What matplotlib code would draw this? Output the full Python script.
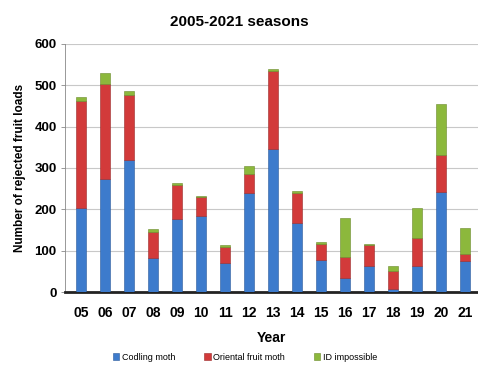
import numpy as np
import matplotlib.pyplot as plt

plt.rcParams['font.family'] = ['Liberation Sans Narrow', 'Liberation Sans', 'DejaVu Sans']

years = ["05", "06", "07", "08", "09", "10", "11", "12", "13",
         "14", "15", "16", "17", "18", "19", "20", "21"]
codling = [204, 274, 319, 83, 177, 183, 70, 240, 345, 167, 78, 35, 63, 8, 62, 241, 76]
oriental = [258, 230, 157, 62, 83, 46, 40, 46, 190, 72, 38, 49, 51, 42, 68, 91, 16]
id_imp = [10, 26, 11, 7, 4, 4, 4, 20, 5, 5, 4, 94, 2, 12, 74, 122, 62]

c_blue = "#3d7bcc"
c_red = "#d23a3a"
c_green = "#8cb83c"

fig = plt.figure(figsize=(4.78, 3.66), dpi=100)
ax = fig.add_axes([0.136, 0.202, 0.864, 0.678])

x = np.arange(len(years))
w = 0.42
cm = np.array(codling)
of = np.array(oriental)
idi = np.array(id_imp)
ax.bar(x, cm, w, color=c_blue, edgecolor="#2a5a9a", linewidth=0.4, label="Codling moth", zorder=3)
ax.bar(x, of, w, bottom=cm, color=c_red, edgecolor="#9a2a2a", linewidth=0.4,
       label="Oriental fruit moth", zorder=3)
ax.bar(x, idi, w, bottom=cm + of, color=c_green, edgecolor="#6a8a2a", linewidth=0.4,
       label="ID impossible", zorder=3)

ax.set_xlim(-0.67, 16.54)
ax.set_ylim(0, 600)
ax.set_yticks(range(0, 601, 100))
ax.set_xticks(x)
ax.set_xticklabels(years, fontsize=10, fontweight="bold")
ax.tick_params(axis="x", length=0, pad=10)
ax.tick_params(axis="y", length=3, width=0.6, color="#888888", labelsize=9.5, pad=3)
for t in ax.get_yticklabels():
    t.set_fontweight("bold")
ax.grid(axis="y", color="#c8c8c8", linewidth=0.8, zorder=0)
for s in ["top", "right"]:
    ax.spines[s].set_visible(False)
ax.spines["left"].set_color("#888888")
ax.spines["left"].set_linewidth(0.6)
ax.spines["bottom"].set_color("#222222")
ax.spines["bottom"].set_linewidth(2)

ax.set_xlabel("Year", fontsize=10, fontweight="bold", labelpad=8)
ax.set_ylabel("Number of rejected fruit loads", fontsize=8.5, fontweight="bold", labelpad=6)
fig.suptitle("2005-2021 seasons", fontsize=11, fontweight="bold", y=0.96)

fig.legend(loc="center", bbox_to_anchor=(0.513, 0.024), ncol=3, frameon=False,
           fontsize=6.5, handlelength=0.7, handleheight=0.7, handletextpad=0.3,
           columnspacing=3.2)

fig.savefig("out.png", dpi=100)
